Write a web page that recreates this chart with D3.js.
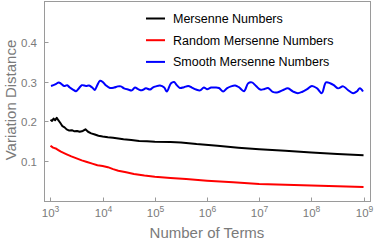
<!DOCTYPE html>
<html>
<head>
<meta charset="utf-8">
<script src="https://cdn.jsdelivr.net/npm/d3@7"></script>
<style>
  body { margin: 0; background: #fff; }
  svg { display: block; font-family: "Liberation Sans", Arial, sans-serif; }
</style>
</head>
<body>
<div id="chart"></div>
<script>
// data (x as log10 of number of terms)
var blackLogN = [3.00, 3.03, 3.06, 3.09, 3.12, 3.15, 3.19, 3.23, 3.27, 3.31, 3.36, 3.41, 3.46, 3.51, 3.56, 3.62, 3.67, 3.72, 3.78, 3.85, 3.92, 4.00, 4.10, 4.20, 4.30, 4.40, 4.55, 4.70, 4.85, 5.00, 5.30, 5.50, 5.80, 6.20, 6.60, 7.00, 7.50, 8.00, 8.50, 9.00];
var blackValues = [0.204, 0.201, 0.207, 0.203, 0.209, 0.203, 0.196, 0.188, 0.185, 0.180, 0.177, 0.178, 0.175, 0.176, 0.174, 0.176, 0.180, 0.174, 0.170, 0.167, 0.164, 0.162, 0.160, 0.159, 0.157, 0.155, 0.153, 0.151, 0.150, 0.149, 0.148, 0.147, 0.143, 0.139, 0.134, 0.130, 0.126, 0.122, 0.118, 0.115];

var redLogN = [3.00, 3.05, 3.10, 3.15, 3.20, 3.30, 3.40, 3.50, 3.60, 3.70, 3.80, 3.90, 4.00, 4.10, 4.20, 4.30, 4.45, 4.60, 4.80, 5.00, 5.30, 5.60, 6.00, 6.50, 7.00, 7.50, 8.00, 8.50, 9.00];
var redValues = [0.139, 0.134, 0.132, 0.128, 0.124, 0.118, 0.112, 0.107, 0.102, 0.098, 0.094, 0.090, 0.088, 0.085, 0.080, 0.076, 0.072, 0.068, 0.064, 0.061, 0.058, 0.055, 0.051, 0.047, 0.043, 0.041, 0.039, 0.037, 0.035];

var blueLogN = [3.01, 3.09, 3.16, 3.20, 3.26, 3.32, 3.37, 3.43, 3.49, 3.55, 3.60, 3.68, 3.74, 3.80, 3.85, 3.89, 3.95, 4.01, 4.06, 4.14, 4.22, 4.29, 4.35, 4.41, 4.49, 4.56, 4.62, 4.68, 4.75, 4.83, 4.91, 4.96, 5.02, 5.10, 5.18, 5.23, 5.31, 5.37, 5.42, 5.48, 5.56, 5.64, 5.71, 5.79, 5.87, 5.94, 6.00, 6.08, 6.15, 6.23, 6.31, 6.38, 6.46, 6.54, 6.61, 6.71, 6.79, 6.86, 6.94, 7.02, 7.09, 7.17, 7.26, 7.36, 7.46, 7.55, 7.65, 7.74, 7.82, 7.92, 8.01, 8.11, 8.20, 8.28, 8.36, 8.43, 8.51, 8.61, 8.70, 8.80, 8.87, 8.93, 8.99];
var blueValues = [0.289, 0.293, 0.298, 0.295, 0.289, 0.291, 0.285, 0.280, 0.276, 0.284, 0.291, 0.289, 0.290, 0.285, 0.279, 0.289, 0.302, 0.298, 0.291, 0.284, 0.285, 0.288, 0.288, 0.283, 0.280, 0.278, 0.285, 0.281, 0.278, 0.283, 0.280, 0.285, 0.288, 0.290, 0.285, 0.275, 0.296, 0.299, 0.291, 0.284, 0.286, 0.289, 0.285, 0.280, 0.278, 0.285, 0.281, 0.285, 0.285, 0.284, 0.275, 0.283, 0.288, 0.290, 0.286, 0.276, 0.296, 0.298, 0.289, 0.280, 0.281, 0.284, 0.274, 0.273, 0.279, 0.283, 0.275, 0.271, 0.274, 0.281, 0.289, 0.283, 0.271, 0.298, 0.296, 0.291, 0.283, 0.288, 0.279, 0.271, 0.275, 0.283, 0.275];

var seriesNames  = ["Mersenne Numbers", "Random Mersenne Numbers", "Smooth Mersenne Numbers"];
var seriesColors = ["#000000", "#ff0000", "#0000ff"];
var xTickExps    = [3, 4, 5, 6, 7, 8, 9];
var yTicks       = [0.1, 0.2, 0.3, 0.4];

var width  = 374;
var height = 244;
var frame  = { left: 44, right: 370, top: 1, bottom: 201 };

var svg = d3.select("#chart").append("svg").attr("width", width).attr("height", height);

var x = d3.scaleLog().domain([Math.pow(10, 2.876), Math.pow(10, 9.124)]).range([frame.left, frame.right]);
var y = d3.scaleLinear().domain([0, 0.5]).range([frame.bottom, frame.top + 1]);

var axisColor = "#9a9a9a";
var textColor = "#7a7a7a";

// frame box
svg.append("rect")
  .attr("x", frame.left + 0.5).attr("y", frame.top + 0.5)
  .attr("width", frame.right - frame.left).attr("height", frame.bottom - frame.top)
  .attr("fill", "none").attr("stroke", axisColor).attr("stroke-width", 1);

// x ticks
var xt = svg.append("g");
xTickExps.forEach(function (e) {
  var px = Math.round(x(Math.pow(10, e))) + 0.5;
  xt.append("line").attr("x1", px).attr("x2", px)
    .attr("y1", frame.bottom + 0.5).attr("y2", frame.bottom - 3.5)
    .attr("stroke", axisColor);
  var t = xt.append("text").attr("x", px).attr("y", 217)
    .attr("text-anchor", "middle").attr("fill", textColor).attr("font-size", 11.5);
  t.append("tspan").text("10");
  t.append("tspan").attr("dy", -5).attr("font-size", 8.5).text(e);
});

// y ticks
var yt = svg.append("g");
yTicks.forEach(function (v) {
  var py = Math.round(y(v)) + 0.5;
  yt.append("line").attr("x1", frame.left + 0.5).attr("x2", frame.left + 4.5)
    .attr("y1", py).attr("y2", py).attr("stroke", axisColor);
  yt.append("text").attr("x", frame.left - 7).attr("y", py + 4)
    .attr("text-anchor", "end").attr("fill", textColor).attr("font-size", 11.5)
    .text(d3.format(".1f")(v));
});

// axis titles
svg.append("text").attr("x", 207).attr("y", 238)
  .attr("text-anchor", "middle").attr("fill", textColor).attr("font-size", 15)
  .text("Number of Terms");
svg.append("text").attr("transform", "translate(16,100) rotate(-90)")
  .attr("text-anchor", "middle").attr("fill", textColor).attr("font-size", 15)
  .text("Variation Distance");

// lines
var line = d3.line()
  .x(function (d) { return x(Math.pow(10, d[0])); })
  .y(function (d) { return y(d[1]); });

var series = [
  { xs: blackLogN, ys: blackValues, curve: d3.curveLinear },
  { xs: redLogN,   ys: redValues,   curve: d3.curveLinear },
  { xs: blueLogN,  ys: blueValues,  curve: d3.curveCatmullRom }
];

series.forEach(function (s, i) {
  var pts = s.xs.map(function (lx, j) { return [lx, s.ys[j]]; });
  svg.append("path")
    .attr("d", line.curve(s.curve)(pts))
    .attr("fill", "none")
    .attr("stroke", seriesColors[i])
    .attr("stroke-width", 2)
    .attr("stroke-linejoin", "round");
});

// legend
var legend = svg.append("g");
seriesNames.forEach(function (name, i) {
  var ly = 18.5 + i * 21.7;
  legend.append("line").attr("x1", 146).attr("x2", 165)
    .attr("y1", ly).attr("y2", ly)
    .attr("stroke", seriesColors[i]).attr("stroke-width", 2);
  legend.append("text").attr("x", 173).attr("y", ly + 4.5)
    .attr("fill", "#000").attr("font-size", 12.5)
    .text(name);
});
</script>
</body>
</html>
